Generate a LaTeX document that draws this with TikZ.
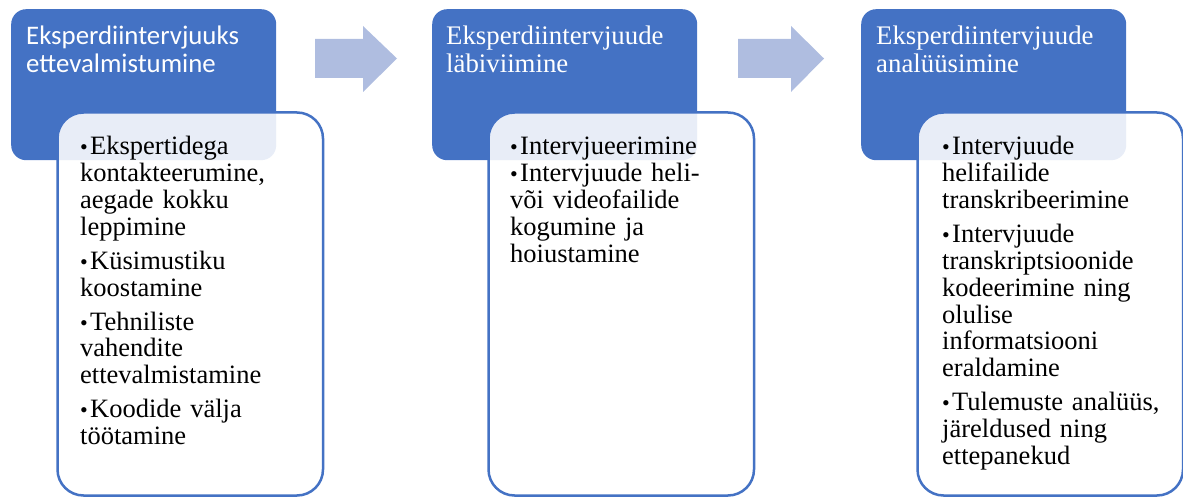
\documentclass[tikz,border=0pt]{standalone}
\usepackage{fontspec}
\setmainfont{Liberation Serif}
\newfontfamily\calibri{Carlito}
\definecolor{stepblue}{HTML}{4472C4}
\definecolor{arrowblue}{HTML}{AFBDE0}
\newcommand{\bitem}[1]{\hangindent=10pt\hangafter=1\noindent\makebox[10pt][l]{\fontsize{22}{22}\selectfont\textbullet}#1\par}

\begin{document}
\begin{tikzpicture}[x=1pt, y=-1pt, line join=round,
    headbox/.style={fill=stepblue, rounded corners=15pt, minimum width=265pt, minimum height=151pt, anchor=north west, inner sep=0pt},
    listbox/.style={draw=stepblue, line width=2.5pt, fill=white, fill opacity=.88, rounded corners=26pt, minimum width=265.5pt, minimum height=383pt, anchor=north west, inner sep=0pt},
    headtext/.style={text=white, anchor=base west, inner sep=0pt, text width=255pt, align=left, font=\fontsize{26.8}{27.5}\selectfont},
    listtext/.style={anchor=base west, inner sep=0pt, text width=234pt, align=left, font=\fontsize{26.5}{26.8}\selectfont},
    steparrow/.style={fill=arrowblue}]
    \useasboundingbox (0,0) rectangle (1183,497);
    %\draw[gray!30] (0,0) grid[step=50pt] (1183,497);
    % blue title boxes
    \foreach \i/\x in {1/11, 2/432, 3/861}
        \node[headbox] (head\i) at (\x,9) {};
    % block arrows
    \foreach \a/\b/\c in {315/363/397, 738/791/824}
        \fill[steparrow] (\a,39)--(\b,39)--(\b,26)--(\c,58.5)--(\b,92)--(\b,78)--(\a,78)--cycle;
    % white list boxes
    \foreach \i/\x in {1/56.25, 2/487.25, 3/916.25}
        \node[listbox] (box\i) at (\x,111.25) {};
    % titles
    \node[headtext, font=\calibri\fontsize{26.8}{28}\selectfont] (title1) at (26,45)
        {Eksperdiintervjuuks\\ettevalmistumine};
    \node[headtext] (title2) at (446,45) {Eksperdiintervjuude\\läbiviimine};
    \node[headtext] (title3) at (876,45) {Eksperdiintervjuude\\analüüsimine};
    % lists
    \node[listtext, execute at begin node={\setlength{\parskip}{7.2pt}}] (list1) at (80,155) {%
        \bitem{Ekspertidega\\kontakteerumine,\\aegade kokku\\leppimine}
        \bitem{Küsimustiku\\koostamine}
        \bitem{Tehniliste\\vahendite\\ettevalmistamine}
        \bitem{Koodide välja\\töötamine}};
    \node[listtext] (list2) at (510,155) {%
        \bitem{Intervjueerimine}
        \bitem{Intervjuude heli-\\või videofailide\\kogumine ja\\hoiustamine}};
    \node[listtext, execute at begin node={\setlength{\parskip}{7.4pt}}] (list3) at (942,155) {%
        \bitem{Intervjuude\\helifailide\\transkribeerimine}
        \bitem{Intervjuude\\transkriptsioonide\\kodeerimine ning\\olulise\\informatsiooni\\eraldamine}
        \bitem{Tulemuste analüüs,\\järeldused ning\\ettepanekud}};
\end{tikzpicture}
\end{document}
